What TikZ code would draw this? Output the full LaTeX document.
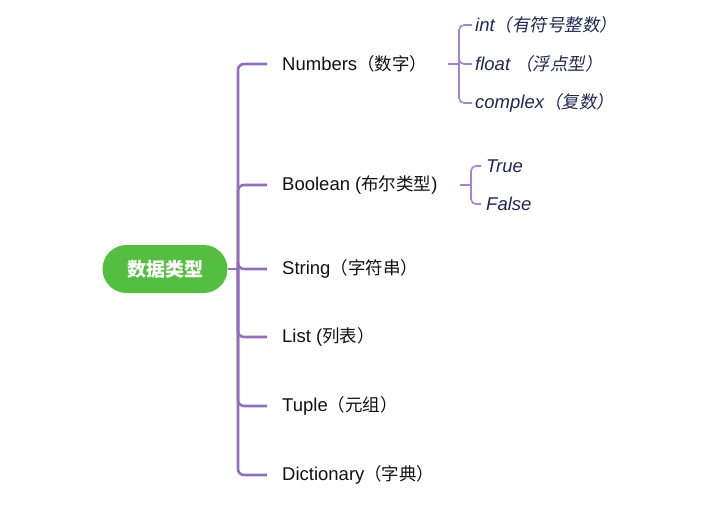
\documentclass[tikz,border=0pt]{standalone}
\usepackage{fontspec}
\setmainfont{Liberation Sans}
\newfontfamily\cjkfam{Noto Sans CJK SC}
\newfontfamily\cjkitfam[FakeSlant=0.18]{Noto Sans CJK SC}
\newcommand{\cj}[1]{{\fontsize{17.5}{21}\selectfont\cjkfam #1}}
\newcommand{\cji}[1]{{\fontsize{17.5}{21}\selectfont\cjkitfam #1}}
\definecolor{rootgreen}{RGB}{84,190,64}
\definecolor{trunkpurple}{RGB}{146,110,190}
\definecolor{subpurple}{RGB}{165,132,205}
\definecolor{navy}{RGB}{32,40,82}
\definecolor{txt}{RGB}{17,17,17}
\tikzset{
  rootbox/.style={fill=rootgreen, text=white, rounded corners=24pt, minimum width=125pt, minimum height=48pt, inner sep=0pt, font=\fontsize{19}{22}\selectfont\cjkfam\bfseries},
  item/.style={anchor=west, inner sep=0pt, text=txt, font=\fontsize{18.5}{21}\selectfont},
  subitem/.style={anchor=west, inner sep=0pt, text=navy, font=\fontsize{18.5}{21}\selectfont\itshape},
  trunk/.style={draw=trunkpurple, line width=2.6pt, rounded corners=6pt},
  subline/.style={draw=subpurple, line width=1.6pt, rounded corners=5pt},
}
\begin{document}
\begin{tikzpicture}[x=1pt,y=-1pt]
\useasboundingbox (0,0) rectangle (711,509);
\node[rootbox] (root) at (165,269) {数据类型};
\node[item] (num) at (282,64) {Numbers\cj{（数字）}};
\node[item] (bool) at (282,185) {Boolean (\cj{布尔类型})};
\node[item] (str) at (282,269) {String\cj{（字符串）}};
\node[item] (list) at (282,337) {List (\cj{列表）}};
\node[item] (tup) at (282,406) {Tuple\cj{（元组）}};
\node[item] (dict) at (282,475) {Dictionary\cj{（字典）}};
\node[subitem] (int) at (475,25) {int\cji{（有符号整数）}};
\node[subitem] (flt) at (475,64) {float \cji{（浮点型）}};
\node[subitem] (cpx) at (475,103) {complex\cji{（复数）}};
\node[subitem] (tru) at (486,166) {True};
\node[subitem] (fls) at (486,204) {False};
% main trunk
\coordinate (j) at (238,269);
\draw[trunkpurple, line width=2.6pt] (root.east) -- (j);
\foreach \t in {num,bool,str,list,tup,dict}
  \draw[trunk] (j) |- ([xshift=-15pt]\t.west);
% numbers bracket
\coordinate (ntick) at (448,64);
\coordinate (nj) at (459,64);
\draw[subline] (ntick) -- (nj);
\foreach \t in {int,flt,cpx}
  \draw[subline] (nj) |- ([xshift=-3pt]\t.west);
% boolean bracket
\coordinate (btick) at (460,185);
\coordinate (bj) at (471,185);
\draw[subline] (btick) -- (bj);
\foreach \t in {tru,fls}
  \draw[subline] (bj) |- ([xshift=-5pt]\t.west);
\end{tikzpicture}
\end{document}
